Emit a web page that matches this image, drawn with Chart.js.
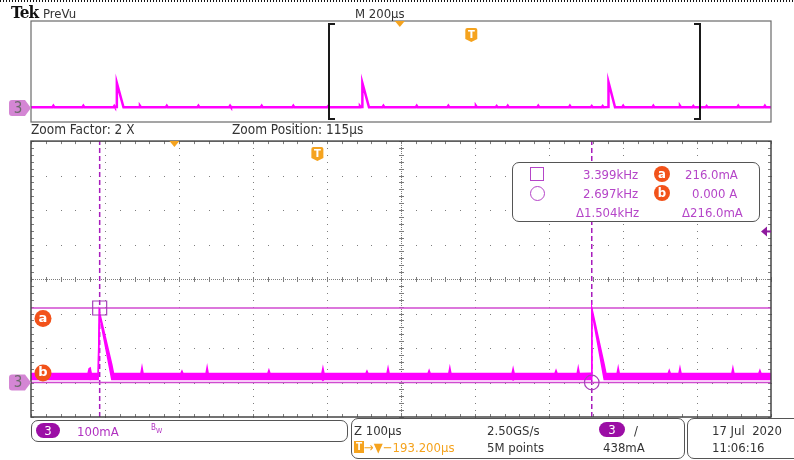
<!DOCTYPE html>
<html>
<head>
<meta charset="utf-8">
<script src="https://cdn.jsdelivr.net/npm/chart.js@4.4.0/dist/chart.umd.min.js"></script>
<style>
  html, body { margin: 0; padding: 0; background: #fff; }
  body {
    width: 794px; height: 460px; position: relative; overflow: hidden;
    font-family: "DejaVu Sans Condensed", "DejaVu Sans", sans-serif;
    font-stretch: condensed; font-size: 13px; color: #333;
  }
  canvas { position: absolute; left: 0; }
  .t { position: absolute; white-space: nowrap; line-height: 13px; }
  .dots {
    position: absolute; left: 0; top: 0; width: 794px; height: 2px;
    background: repeating-linear-gradient(90deg, #111 0 1.5px, transparent 1.5px 3px);
  }
  .tek { left: 11px; top: 4px; font-family: "DejaVu Serif Condensed", "DejaVu Serif", serif; font-weight: bold; font-size: 17px; line-height: 17px; color: #111; letter-spacing: -0.8px; }
  .box { position: absolute; border: 1.5px solid #555; border-radius: 7px; background: #fff; box-sizing: border-box; }
  .purple { color: #b545c8; }
  .badge { position: absolute; width: 16px; height: 16px; border-radius: 50%; background: #f2521a; color: #fff; font-weight: bold; font-size: 13px; line-height: 15px; text-align: center; }
  .pill { position: absolute; height: 15px; border-radius: 8px; background: #9b0ea5; color: #fff; font-size: 13px; line-height: 15px; text-align: center; }
  .orange { color: #f5a31e; }
</style>
</head>
<body>
<canvas id="preview" width="794" height="130" style="top:0"></canvas>
<canvas id="main" width="794" height="330" style="top:130px"></canvas>

<div class="dots"></div>
<div class="t tek">Tek</div>
<div class="t" style="left:43px;top:7px">PreVu</div>
<div class="t" style="left:355px;top:7px">M 200µs</div>
<div class="t" style="left:31px;top:123px;font-size:13.5px">Zoom Factor: 2 X</div>
<div class="t" style="left:232px;top:123px;font-size:13.5px">Zoom Position: 115µs</div>

<!-- cursor readout -->
<div class="box" style="left:512px;top:162px;width:248px;height:60px"></div>
<div style="position:absolute;left:530px;top:167px;width:14px;height:14px;border:1.5px solid #b545c8;box-sizing:border-box"></div>
<div style="position:absolute;left:530px;top:186px;width:15px;height:15px;border:1.5px solid #b545c8;border-radius:50%;box-sizing:border-box"></div>
<div class="t purple" id="f1" style="left:583px;top:168px"></div>
<div class="t purple" id="f2" style="left:583px;top:187px"></div>
<div class="t purple" id="fd" style="left:576px;top:206px"></div>
<div class="badge" style="left:654px;top:166px">a</div>
<div class="badge" style="left:654px;top:185px">b</div>
<div class="t purple" id="l1" style="left:685px;top:168px"></div>
<div class="t purple" id="l2" style="left:692px;top:187px"></div>
<div class="t purple" id="ld" style="left:682px;top:206px"></div>

<!-- status bar -->
<div class="box" style="left:31px;top:420px;width:317px;height:22px"></div>
<div class="pill" style="left:36px;top:423px;width:24px">3</div>
<div class="t" style="left:77px;top:425px;color:#b030c0">100mA</div>
<div class="t" style="left:151px;top:421px;color:#b030c0;font-size:8px">B<sub style="font-size:7px">W</sub></div>

<div class="box" style="left:351px;top:418px;width:334px;height:41px"></div>
<div class="t" style="left:354px;top:424px">Z 100µs</div>
<div style="position:absolute;left:354px;top:441px;width:10px;height:12px;background:#f5a31e;color:#fff;font-weight:bold;font-size:10px;line-height:12px;text-align:center">T</div>
<div class="t orange" style="left:364px;top:441px">→▼−193.200µs</div>
<div class="t" style="left:487px;top:424px">2.50GS/s</div>
<div class="t" style="left:487px;top:441px">5M points</div>
<div class="pill" style="left:599px;top:422px;width:26px">3</div>
<div class="t" style="left:634px;top:424px">/</div>
<div class="t" style="left:603px;top:441px">438mA</div>

<div class="box" style="left:687px;top:418px;width:120px;height:41px"></div>
<div class="t" style="left:712px;top:424px">17 Jul &nbsp;2020</div>
<div class="t" style="left:712px;top:441px">11:06:16</div>

<script>
// Channel 3 current, zoomed window: time (µs from trigger), envelope max/min (mA)
const traceTime = [
  -387, -310, -308.5, -307, -305.5,
  -296.2, -295.4, -294.6, -277.8, -275.4,
  -238.5, -237, -235.5,
  -184.5, -183, -181.5,
  -150.5, -149, -147.5,
  -67, -65.5, -64,
  6, 7.5, 9,
  65.5, 67, 68.5,
  94, 95.5, 97,
  149.5, 151, 152.5,
  177.5, 179, 180.5,
  263, 264.5, 266,
  321, 322.5, 324,
  351, 352.5, 354,
  369.6, 370.4, 370.8, 387.6, 390,
  405, 406.5, 408,
  474, 475.5, 477,
  488.5, 490, 491.5,
  560, 561.5, 563,
  596.5, 598, 599.5,
  613
];
const traceMax = [
  26, 26, 40, 42, 26,
  27, 27, 205, 52, 26,
  26, 44, 26,
  26, 33, 26,
  26, 44, 26,
  26, 36, 26,
  26, 42, 26,
  26, 33, 26,
  26, 42, 26,
  26, 35, 26,
  26, 43, 26,
  26, 40, 26,
  26, 35, 26,
  26, 43, 26,
  27, 27, 216, 52, 26,
  26, 43, 26,
  26, 35, 26,
  26, 42, 26,
  26, 42, 26,
  26, 35, 26,
  26
];
const traceMin = [
  9, 9, 9, 8, 9,
  9, 9, 197, 9, 9,
  9, 9, 9,
  9, 9, 9,
  9, 9, 9,
  9, 9, 9,
  9, 6, 9,
  9, 9, 9,
  9, 9, 9,
  9, 9, 9,
  9, 9, 9,
  9, 7, 9,
  9, 9, 9,
  9, 9, 9,
  9, 9, 208, 9, 9,
  9, 9, 9,
  9, 9, 9,
  9, 9, 9,
  9, 9, 9,
  9, 9, 9,
  9
];

// Full record in the PreVu strip: time (µs), current (mA)
const previewTime = [
  -1190,
  -1132, -1129.5, -1127,
  -1051, -1048.5, -1046,
  -967, -965, -963,
  -958.8, -958, -940,
  -898, -895.5, -893,
  -825.5, -823, -820.5,
  -740, -737.5, -735,
  -654.5, -652, -649.5,
  -569, -566.5, -564,
  -483.5, -481, -478.5,
  -389.5, -387, -384.5,
  -303.5, -301, -298.5,
  -295, -294.4, -276.5,
  -240, -237.5, -235,
  -150, -147.5, -145,
  -64.5, -62, -59.5,
  10, 12.5, 15,
  66, 68.5, 71,
  96, 98.5, 101,
  178.5, 181, 183.5,
  264, 266.5, 269,
  323, 325.5, 328,
  352.5, 355, 357.5,
  370, 370.8, 388.5,
  408, 410.5, 413,
  489.5, 492, 494.5,
  561.5, 564, 566.5,
  597.5, 600, 602.5,
  633.5, 636, 638.5,
  719, 721.5, 724,
  791, 793.5, 796,
  810
];
const previewCurrent = [
  17,
  17, 28, 17,
  17, 28, 17,
  17, 26, 17,
  18, 210, 17,
  17, 28, 17,
  17, 28, 17,
  17, 28, 17,
  17, 28, 17,
  17, 28, 17,
  17, 28, 17,
  17, 25, 17,
  17, 26, 17,
  18, 210, 17,
  17, 28, 17,
  17, 28, 17,
  17, 28, 17,
  17, 28, 17,
  17, 26, 17,
  17, 28, 17,
  17, 28, 17,
  17, 28, 17,
  17, 26, 17,
  17, 26, 17,
  18, 216, 17,
  17, 28, 17,
  17, 28, 17,
  17, 28, 17,
  17, 26, 17,
  17, 26, 17,
  17, 28, 17,
  17, 28, 17,
  17
];

// Horizontal windows (µs) and vertical range (mA, 100 mA/div)
const zoomWindow = [-387, 613];
const previewWindow = [-1190, 810];
const verticalRange = [-100, 700];
const divTime = 100;
const divCurrent = 100;

// Cursors, trigger
const cursorFreq = [3399, 2697];     // Hz (1/t)
const cursorLevel = [216.0, 0.0];    // mA
const triggerDelay = -193.2;         // µs
const triggerLevel = 438;            // mA

const TRACE = '#ff00ff';
const CURSOR_H = '#d04ad0';
const CURSOR_V = '#a81cbc';
const CURSOR_MARK = '#a640b8';
const ORANGE = '#f5a31e';

const cursorTime = [-1e6 / cursorFreq[0], 1e6 / cursorFreq[1]];

// readout text
document.getElementById('f1').textContent = (cursorFreq[0] / 1000).toFixed(3) + 'kHz';
document.getElementById('f2').textContent = (cursorFreq[1] / 1000).toFixed(3) + 'kHz';
document.getElementById('fd').textContent = '\u0394' + (1e3 / (cursorTime[1] - cursorTime[0])).toFixed(3) + 'kHz';
document.getElementById('l1').textContent = cursorLevel[0].toFixed(1) + 'mA';
document.getElementById('l2').textContent = (cursorLevel[1] / 1000).toFixed(3) + ' A';
document.getElementById('ld').textContent = '\u0394' + (cursorLevel[0] - cursorLevel[1]).toFixed(1) + 'mA';

function pts(xs, ys) {
  return xs.map((x, i) => ({ x: x, y: ys[i] }));
}

// ---- drawing helpers ----
function groundMarker(ctx, y) {
  ctx.save();
  ctx.fillStyle = '#d486d4';
  ctx.beginPath();
  ctx.moveTo(12, y - 8);
  ctx.lineTo(25, y - 8);
  ctx.lineTo(31, y);
  ctx.lineTo(25, y + 8);
  ctx.lineTo(12, y + 8);
  ctx.quadraticCurveTo(9, y + 8, 9, y + 5);
  ctx.lineTo(9, y - 5);
  ctx.quadraticCurveTo(9, y - 8, 12, y - 8);
  ctx.fill();
  ctx.fillStyle = '#6a6a6a';
  ctx.font = '15px "DejaVu Sans Condensed", "DejaVu Sans"';
  ctx.textAlign = 'center';
  ctx.textBaseline = 'middle';
  ctx.fillText('3', 18, y + 1);
  ctx.restore();
}

function triggerBadge(ctx, cx, cy) {
  ctx.save();
  ctx.fillStyle = ORANGE;
  ctx.beginPath();
  ctx.moveTo(cx - 6, cy - 5);
  ctx.quadraticCurveTo(cx - 6, cy - 7, cx - 4, cy - 7);
  ctx.lineTo(cx + 4, cy - 7);
  ctx.quadraticCurveTo(cx + 6, cy - 7, cx + 6, cy - 5);
  ctx.lineTo(cx + 6, cy + 4);
  ctx.lineTo(cx, cy + 7);
  ctx.lineTo(cx - 6, cy + 4);
  ctx.closePath();
  ctx.fill();
  ctx.fillStyle = '#fff';
  ctx.font = 'bold 10px "DejaVu Sans"';
  ctx.textAlign = 'center';
  ctx.textBaseline = 'middle';
  ctx.fillText('T', cx, cy);
  ctx.restore();
}

function delayMark(ctx, x, top) {
  ctx.save();
  ctx.fillStyle = ORANGE;
  ctx.beginPath();
  ctx.moveTo(x - 5, top);
  ctx.lineTo(x + 5, top);
  ctx.lineTo(x, top + 6);
  ctx.closePath();
  ctx.fill();
  ctx.restore();
}

// oscilloscope graticule for the zoomed view
const graticule = {
  id: 'graticule',
  beforeDatasetsDraw(chart) {
    const { ctx, chartArea: a, scales: { x, y } } = chart;
    const cols = Math.round((x.max - x.min) / divTime);
    const rows = Math.round((y.max - y.min) / divCurrent);
    const xs = [], ys = [];
    for (let i = 0; i <= cols * 5; i++) xs.push(x.getPixelForValue(x.min + i * divTime / 5));
    for (let j = 0; j <= rows * 5; j++) ys.push(y.getPixelForValue(y.max - j * divCurrent / 5));
    const cx = xs[cols / 2 * 5], cy = ys[rows / 2 * 5];
    ctx.save();
    ctx.fillStyle = '#7d7d7d';
    // division lines as dots
    for (let i = 1; i < cols; i++) {
      if (i === cols / 2) continue;
      const px = Math.round(xs[i * 5]);
      ys.forEach(py => ctx.fillRect(px, Math.round(py), 1, 1));
    }
    for (let j = 1; j < rows; j++) {
      if (j === rows / 2) continue;
      const py = Math.round(ys[j * 5]);
      xs.forEach(px => ctx.fillRect(Math.round(px), py, 1, 1));
    }
    // centre crosshair with minor ticks
    for (let px = a.left; px < a.right; px += 2) ctx.fillRect(Math.round(px), Math.round(cy), 1, 1);
    for (let py = a.top; py < a.bottom; py += 2) ctx.fillRect(Math.round(cx), Math.round(py), 1, 1);
    xs.forEach(px => ctx.fillRect(Math.round(px), Math.round(cy) - 2, 1, 5));
    ys.forEach(py => ctx.fillRect(Math.round(cx) - 2, Math.round(py), 5, 1));
    // ticks along the frame
    xs.forEach(px => {
      ctx.fillRect(Math.round(px), a.top, 1, 3);
      ctx.fillRect(Math.round(px), a.bottom - 3, 1, 3);
    });
    ys.forEach(py => {
      ctx.fillRect(a.left, Math.round(py), 3, 1);
      ctx.fillRect(a.right - 3, Math.round(py), 3, 1);
    });
    ctx.restore();
  },
  afterDraw(chart) {
    const { ctx, chartArea: a, scales: { x, y } } = chart;
    ctx.save();
    ctx.strokeStyle = '#454545';
    ctx.lineWidth = 1.5;
    ctx.strokeRect(a.left, a.top, a.right - a.left, a.bottom - a.top);
    ctx.restore();

    delayMark(ctx, x.getPixelForValue(triggerDelay), a.top);
    triggerBadge(ctx, x.getPixelForValue(0), a.top + 13);
    groundMarker(ctx, y.getPixelForValue(0));

    // trigger level arrow on the right edge
    const ly = y.getPixelForValue(triggerLevel);
    ctx.save();
    ctx.fillStyle = '#8e1a9e';
    ctx.beginPath();
    ctx.moveTo(a.right - 10, ly);
    ctx.lineTo(a.right - 4, ly - 5);
    ctx.lineTo(a.right - 4, ly + 5);
    ctx.closePath();
    ctx.fill();
    ctx.fillRect(a.right - 5, ly - 1, 5, 2);
    ctx.restore();

    // cursor level badges
    const badge = (letter, cy) => {
      ctx.save();
      ctx.fillStyle = '#f2521a';
      ctx.beginPath();
      ctx.arc(43, cy, 8.5, 0, Math.PI * 2);
      ctx.fill();
      ctx.fillStyle = '#fff';
      ctx.font = 'bold 13px "DejaVu Sans"';
      ctx.textAlign = 'center';
      ctx.textBaseline = 'middle';
      ctx.fillText(letter, 43, cy);
      ctx.restore();
    };
    badge('a', y.getPixelForValue(cursorLevel[0]) + 10.5);
    badge('b', y.getPixelForValue(cursorLevel[1]) - 9.5);
  }
};

// PreVu strip: frame, zoom brackets, trigger marks
const prevuFrame = {
  id: 'prevuFrame',
  afterDraw(chart) {
    const { ctx, chartArea: a, scales: { x, y } } = chart;
    ctx.save();
    ctx.strokeStyle = '#6a6a6a';
    ctx.lineWidth = 1.2;
    ctx.strokeRect(a.left, a.top, a.right - a.left, a.bottom - a.top);
    ctx.strokeStyle = '#1a1a1a';
    ctx.lineWidth = 2;
    const l = Math.round(x.getPixelForValue(zoomWindow[0])) + 1;
    const r = Math.round(x.getPixelForValue(zoomWindow[1])) + 2;
    ctx.beginPath();
    ctx.moveTo(l + 6, a.top + 3); ctx.lineTo(l, a.top + 3); ctx.lineTo(l, a.bottom - 3); ctx.lineTo(l + 6, a.bottom - 3);
    ctx.moveTo(r - 6, a.top + 3); ctx.lineTo(r, a.top + 3); ctx.lineTo(r, a.bottom - 3); ctx.lineTo(r - 6, a.bottom - 3);
    ctx.stroke();
    ctx.restore();
    delayMark(ctx, x.getPixelForValue(triggerDelay), a.top);
    triggerBadge(ctx, x.getPixelForValue(0), a.top + 14);
    groundMarker(ctx, y.getPixelForValue(0) - 1.5);
  }
};

const common = {
  responsive: false,
  animation: false,
  events: [],
  plugins: { legend: { display: false }, tooltip: { enabled: false } }
};

new Chart(document.getElementById('preview'), {
  type: 'line',
  data: {
    datasets: [{
      data: pts(previewTime, previewCurrent),
      borderColor: TRACE, borderWidth: 2.5, pointRadius: 0, tension: 0, fill: false
    }]
  },
  options: Object.assign({}, common, {
    layout: { padding: { left: 31, right: 23, top: 21, bottom: 8 } },
    scales: {
      x: { type: 'linear', display: false, min: previewWindow[0], max: previewWindow[1] },
      y: { type: 'linear', display: false, min: verticalRange[0], max: verticalRange[1] }
    }
  }),
  plugins: [prevuFrame]
});

new Chart(document.getElementById('main'), {
  type: 'line',
  data: {
    datasets: [
      { data: pts(traceTime, traceMax), borderColor: TRACE, borderWidth: 1.5, pointRadius: 0, tension: 0, fill: false, order: 1 },
      { data: pts(traceTime, traceMin), borderColor: TRACE, borderWidth: 1.5, pointRadius: 0, tension: 0, fill: '-1', backgroundColor: TRACE, order: 1 },
      { data: pts(zoomWindow, [cursorLevel[0], cursorLevel[0]]), borderColor: CURSOR_H, borderWidth: 1.5, pointRadius: 0, order: 4 },
      { data: pts(zoomWindow, [cursorLevel[1], cursorLevel[1]]), borderColor: CURSOR_H, borderWidth: 1.5, pointRadius: 0, order: 4 },
      { data: pts([cursorTime[0], cursorTime[0]], verticalRange), borderColor: CURSOR_V, borderWidth: 1.5, borderDash: [5, 3], pointRadius: 0, order: 4 },
      { data: pts([cursorTime[1], cursorTime[1]], verticalRange), borderColor: CURSOR_V, borderWidth: 1.5, borderDash: [5, 3], pointRadius: 0, order: 4 },
      { type: 'scatter', data: [{ x: cursorTime[0], y: cursorLevel[0] }], pointStyle: 'rect', pointRadius: 9.9, borderColor: CURSOR_MARK, backgroundColor: 'rgba(0,0,0,0)', borderWidth: 1.2, order: 0 },
      { type: 'scatter', data: [{ x: cursorTime[1], y: cursorLevel[1] }], pointStyle: 'circle', pointRadius: 7.3, borderColor: CURSOR_MARK, backgroundColor: 'rgba(0,0,0,0)', borderWidth: 1.2, order: 0 }
    ]
  },
  options: Object.assign({}, common, {
    layout: { padding: { left: 31, right: 23, top: 9, bottom: 43 } },
    scales: {
      x: { type: 'linear', display: false, min: zoomWindow[0], max: zoomWindow[1] },
      y: { type: 'linear', display: false, min: verticalRange[0], max: verticalRange[1] }
    }
  }),
  plugins: [graticule]
});
</script>
</body>
</html>
